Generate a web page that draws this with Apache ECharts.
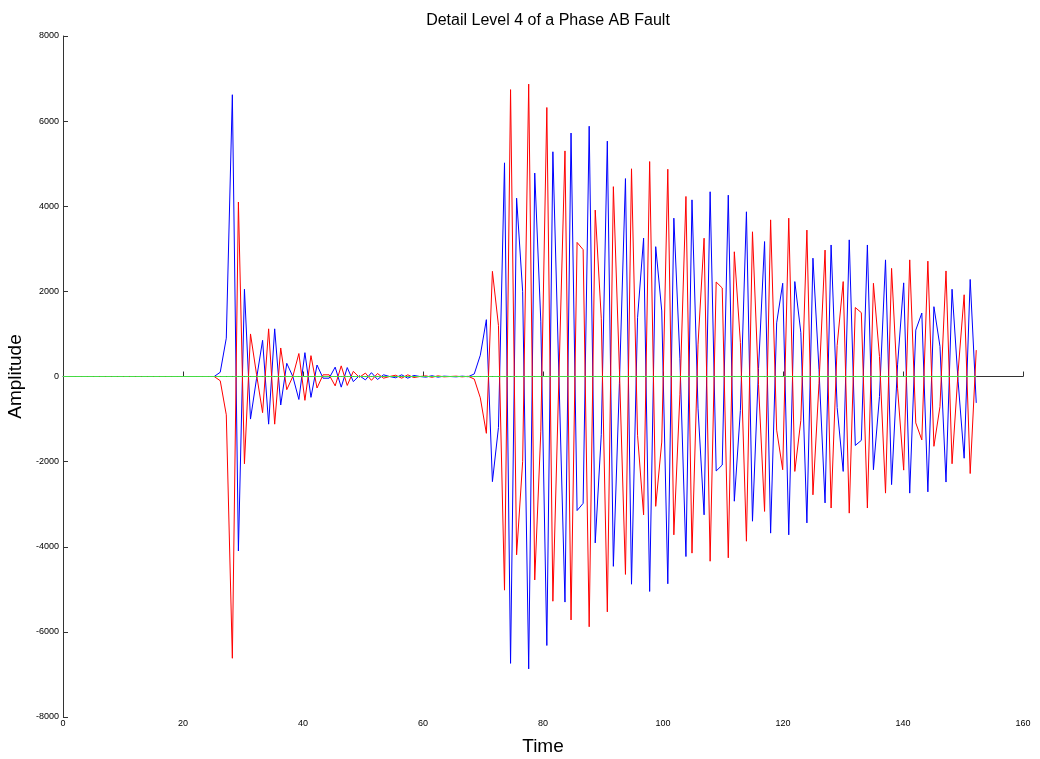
<!DOCTYPE html>
<html>
<head>
<meta charset="utf-8">
<style>
html,body{margin:0;padding:0;background:#fff;}
#chart{width:1040px;height:759px;}
</style>
<script src="https://cdn.jsdelivr.net/npm/echarts@6/dist/echarts.min.js"></script>
</head>
<body>
<div id="chart"></div>
<script>
// sampling step of the time axis (sample k sits at time k*timeStep)
var timeStep = 1.008;
var blueValues = [
0,0,0,0,0,0,0,0,0,0,
0,0,0,0,0,0,0,0,0,0,
0,0,0,0,0,0,100,900,6620,-4100,
2050,-1000,-50,850,-1120,1120,-670,310,0,-540,
560,-490,270,-40,-40,220,-250,210,-120,20,
-80,90,-70,40,0,-30,40,-40,25,0,
-15,18,-15,8,0,-8,8,-5,60,500,
1335,-2470,-1200,5020,-6740,4190,2000,-6870,4780,1300,
-6320,5280,0,-5300,5720,-3150,-2980,5880,-3910,-1370,
5530,-4460,-160,4650,-4880,1380,3250,-5050,3050,1540,
-4870,3720,430,-4230,4150,-760,-3250,4340,-2220,-2080,
4260,-2930,-800,3870,-3400,190,3170,-3680,1260,2190,
-3720,2230,1030,-3440,2780,160,-2970,3090,-730,-2230,
3210,-1620,-1500,3090,-2190,-470,2740,-2540,290,2200,
-2740,1090,1490,-2710,1640,710,-2480,2050,-110,-1920,
2280,-620
];
var redValues = [
0,0,0,0,0,0,0,0,0,0,
0,0,0,0,0,0,0,0,0,0,
0,0,0,0,0,0,-100,-900,-6620,4100,
-2050,1000,50,-850,1120,-1120,670,-310,0,540,
-560,490,-270,40,40,-220,250,-210,120,-20,
80,-90,70,-40,0,30,-40,40,-25,0,
15,-18,15,-8,0,8,-8,5,-60,-500,
-1335,2470,1200,-5020,6740,-4190,-2000,6870,-4780,-1300,
6320,-5280,0,5300,-5720,3150,2980,-5880,3910,1370,
-5530,4460,160,-4650,4880,-1380,-3250,5050,-3050,-1540,
4870,-3720,-430,4230,-4150,760,3250,-4340,2220,2080,
-4260,2930,800,-3870,3400,-190,-3170,3680,-1260,-2190,
3720,-2230,-1030,3440,-2780,-160,2970,-3090,730,2230,
-3210,1620,1500,-3090,2190,470,-2740,2540,-290,-2200,
2740,-1090,-1490,2710,-1640,-710,2480,-2050,110,1920,
-2280,620
];
var greenValues = blueValues.map(function(){return 0;});
var xTicks = [0,20,40,60,80,100,120,140,160];
var yTicks = [-8000,-6000,-4000,-2000,0,2000,4000,6000,8000];

function toPairs(arr){ return arr.map(function(v,i){ return [i*timeStep,v]; }); }

var chart = echarts.init(document.getElementById('chart'));
var axisCol = '#333';
chart.setOption({
  animation:false,
  backgroundColor:'#fff',
  title:{text:'Detail Level 4 of a Phase AB Fault',left:543,top:8,textAlign:'center',
    textStyle:{fontFamily:'Liberation Sans',fontSize:16,fontWeight:'normal',color:'#000'}},
  grid:{left:63,right:17,top:36,bottom:42,containLabel:false,outerBoundsMode:'none'},
  xAxis:{type:'value',min:xTicks[0],max:xTicks[xTicks.length-1],interval:20,name:'Time',nameLocation:'middle',nameGap:20,
    nameTextStyle:{fontFamily:'Liberation Sans',fontSize:19,color:'#000'},
    axisLine:{show:true,lineStyle:{color:axisCol,width:1}},
    axisTick:{show:true,inside:true,length:5,lineStyle:{color:axisCol}},
    axisLabel:{fontFamily:'Liberation Sans',fontSize:9,color:'#000',margin:2,formatter:function(v){return String(v);}},
    splitLine:{show:false}},
  yAxis:{type:'value',min:yTicks[0],max:yTicks[yTicks.length-1],interval:2000,name:'Amplitude',nameLocation:'middle',nameGap:32,
    nameTextStyle:{fontFamily:'Liberation Sans',fontSize:19,color:'#000'},
    axisLine:{show:true,lineStyle:{color:axisCol,width:1}},
    axisTick:{show:true,inside:true,length:5,lineStyle:{color:axisCol}},
    axisLabel:{fontFamily:'Liberation Sans',fontSize:9,color:'#000',margin:4,formatter:function(v){return String(v);}},
    splitLine:{show:false}},
  series:[
    {type:'line',data:toPairs(blueValues),showSymbol:false,lineStyle:{color:'#0000ff',width:1},itemStyle:{color:'#0000ff'}},
    {type:'line',data:toPairs(redValues),showSymbol:false,lineStyle:{color:'#ff0000',width:1},itemStyle:{color:'#ff0000'}},
    {type:'line',data:toPairs(greenValues),showSymbol:false,lineStyle:{color:'#44dd44',width:1},itemStyle:{color:'#44dd44'}}
  ]
});
</script>
</body>
</html>
